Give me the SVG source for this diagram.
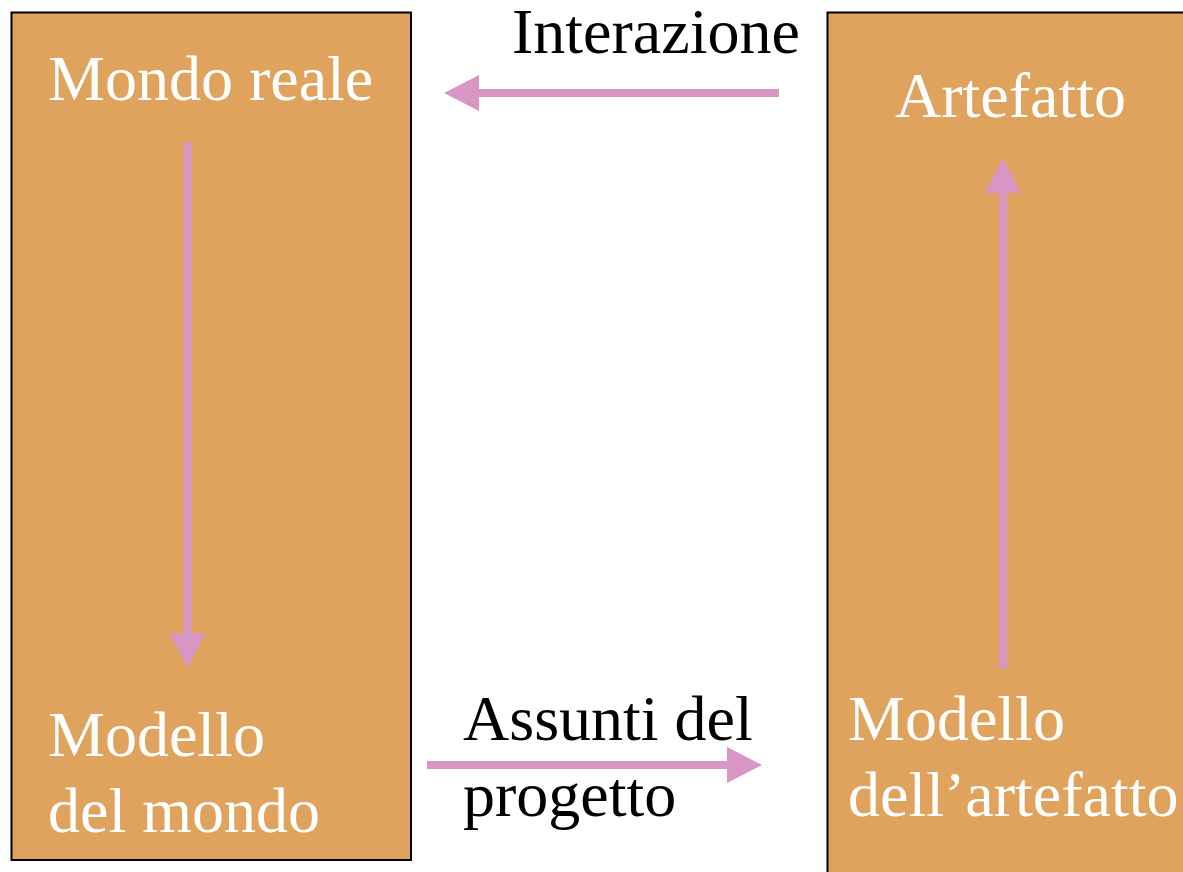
<svg xmlns="http://www.w3.org/2000/svg" width="1183" height="872" viewBox="0 0 1183 872">
<style>
.box{fill:#dfa35d;stroke:#000;stroke-width:2}
.wt{font-family:"Liberation Serif","Times New Roman",serif;font-size:64px;fill:#fff}
.bt{font-family:"Liberation Serif","Times New Roman",serif;font-size:64px;fill:#000}
.arr{stroke:#d896c4;stroke-width:8;fill:none;marker-end:url(#ah)}
</style>
<defs>
<marker id="ah" viewBox="0 0 35 36" markerUnits="userSpaceOnUse" markerWidth="35" markerHeight="36" refX="0" refY="18" orient="auto">
<path d="M0,0 L35,18 L0,36 Z" fill="#d896c4"/>
</marker>
</defs>
<rect width="1183" height="872" fill="#fff"/>
<g id="left">
<rect class="box" x="11.5" y="12.5" width="399.5" height="847.5"/>
<text class="wt" x="48" y="100">Mondo reale</text>
<text class="wt" x="48" y="756">Modello</text>
<text class="wt" x="48" y="832">del mondo</text>
</g>
<g id="right">
<rect class="box" x="827.5" y="12.5" width="400" height="900"/>
<text class="wt" x="895" y="117">Artefatto</text>
<text class="wt" x="848" y="740">Modello</text>
<text class="wt" x="848" y="816">dell’artefatto</text>
</g>
<g id="labels">
<text class="bt" x="512" y="53">Interazione</text>
<text class="bt" x="463" y="740">Assunti del</text>
<text class="bt" x="463" y="816">progetto</text>
</g>
<g id="connectors">
<line class="arr" x1="779" y1="93" x2="479" y2="93"/>
<line class="arr" x1="187.5" y1="142" x2="187.5" y2="633"/>
<line class="arr" x1="1003" y1="669" x2="1003" y2="193"/>
<line class="arr" x1="427" y1="765" x2="727" y2="765"/>
</g>
</svg>
